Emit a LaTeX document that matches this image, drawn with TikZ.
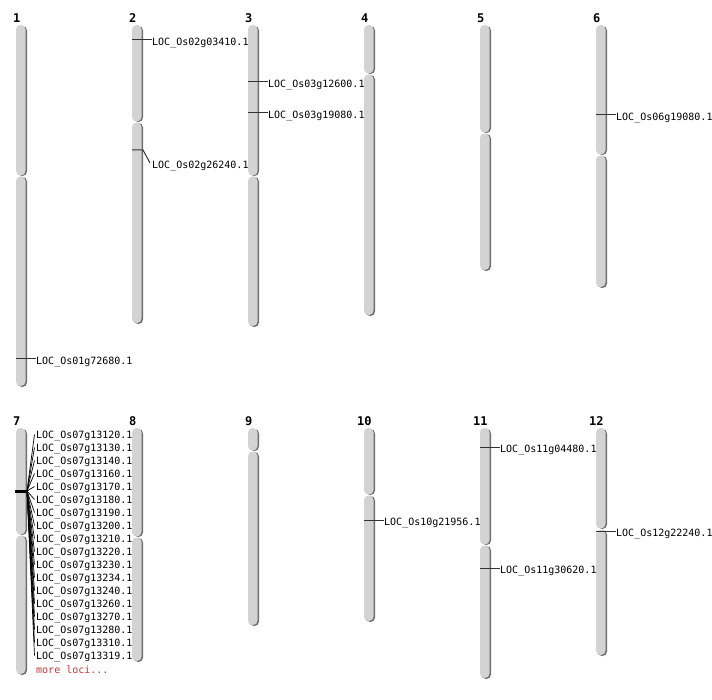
\documentclass[tikz,border=0pt]{standalone}
\usepackage{fontspec}
\newfontfamily\monof{DejaVu Sans Mono}
\definecolor{chrgray}{HTML}{D3D3D3}
\definecolor{shadowgray}{HTML}{6E6E6E}
\definecolor{markgray}{HTML}{333333}
\definecolor{lociRed}{HTML}{CC3333}
\tikzset{
  loc/.style={font=\monof\fontsize{10}{12}\selectfont, anchor=west, inner sep=0pt, text=black},
  num/.style={font=\monof\bfseries\fontsize{12}{14}\selectfont, anchor=base west, inner sep=0pt},
  mk/.style={draw=markgray, line width=1pt},
  fan/.style={draw=black, line width=0.7pt},
}
% \chrom{x}{top}{centromere}{bottom}
\newcommand\chrom[4]{%
  \fill[shadowgray, rounded corners=4.5pt] (#1+1.5,#2+1) rectangle (#1+11,#3);
  \fill[shadowgray, rounded corners=4.5pt] (#1+1.5,#3+1) rectangle (#1+11,#4+1);
  \fill[chrgray, rounded corners=4.5pt] (#1,#2) rectangle (#1+9.5,#3-0.5);
  \fill[chrgray, rounded corners=4.5pt] (#1,#3+0.5) rectangle (#1+9.5,#4);
}
\begin{document}
\begin{tikzpicture}[x=1pt,y=-1pt]
\useasboundingbox (0,0) rectangle (712,700);
\fill[white] (0,0) rectangle (712,700);
% chromosomes, top row
\chrom{16}{25}{176}{386}
\chrom{132}{25}{122}{323}
\chrom{248}{25}{176}{326}
\chrom{364}{25}{74}{315}
\chrom{480}{25}{133}{270}
\chrom{596}{25}{155}{287}
% bottom row
\chrom{16}{428}{535}{674}
\chrom{132}{428}{537}{661}
\chrom{248}{428}{451}{625}
\chrom{364}{428}{495}{621}
\chrom{480}{428}{545}{678}
\chrom{596}{428}{529}{655}
% chromosome numbers
\node[num] (n1) at (13,22.5) {1};
\node[num] (n2) at (129,22.5) {2};
\node[num] (n3) at (245,22.5) {3};
\node[num] (n4) at (361,22.5) {4};
\node[num] (n5) at (477,22.5) {5};
\node[num] (n6) at (593,22.5) {6};
\node[num] (n7) at (13,425.5) {7};
\node[num] (n8) at (129,425.5) {8};
\node[num] (n9) at (245,425.5) {9};
\node[num] (n10) at (357,425.5) {10};
\node[num] (n11) at (473,425.5) {11};
\node[num] (n12) at (589,425.5) {12};
% single loci
\coordinate (m1) at (16,359);
\node[loc] (l1) at (36,361.5) {LOC\_Os01g72680.1};
\draw[mk] (m1) -- (m1 -| l1.west);
\coordinate (m2a) at (132,40);
\node[loc] (l2a) at (152,42.5) {LOC\_Os02g03410.1};
\draw[mk] (m2a) -- (m2a -| l2a.west);
\coordinate (m2b) at (132,150);
\coordinate (m2bk) at (143,150);
\coordinate (m2be) at (150,163);
\node[loc] (l2b) at (152,165.5) {LOC\_Os02g26240.1};
\draw[mk] (m2b) -- (m2bk) -- (m2be);
\coordinate (m3a) at (248,82);
\node[loc] (l3a) at (268,84.5) {LOC\_Os03g12600.1};
\draw[mk] (m3a) -- (m3a -| l3a.west);
\coordinate (m3b) at (248,113);
\node[loc] (l3b) at (268,115.5) {LOC\_Os03g19080.1};
\draw[mk] (m3b) -- (m3b -| l3b.west);
\coordinate (m6) at (596,115);
\node[loc] (l6) at (616,117.5) {LOC\_Os06g19080.1};
\draw[mk] (m6) -- (m6 -| l6.west);
\coordinate (m10) at (364,520);
\node[loc] (l10) at (384,522.5) {LOC\_Os10g21956.1};
\draw[mk] (m10) -- (m10 -| l10.west);
\coordinate (m11a) at (480,447);
\node[loc] (l11a) at (500,449.5) {LOC\_Os11g04480.1};
\draw[mk] (m11a) -- (m11a -| l11a.west);
\coordinate (m11b) at (480,568);
\node[loc] (l11b) at (500,570.5) {LOC\_Os11g30620.1};
\draw[mk] (m11b) -- (m11b -| l11b.west);
\coordinate (m12) at (596,531);
\node[loc] (l12) at (616,533.5) {LOC\_Os12g22240.1};
\draw[mk] (m12) -- (m12 -| l12.west);
% chromosome 7 cluster
\coordinate (c7a) at (15,491);
\coordinate (c7) at (27,491);
\foreach \id [count=\i from 0] in {13120,13130,13140,13160,13170,13180,13190,13200,13210,13220,13230,13234,13240,13260,13270,13280,13310,13319}{
  \node[loc] (l7-\i) at (36,435.5+13*\i) {LOC\_Os07g\id.1};
  \draw[fan] (c7) -- ([xshift=-1.5pt,yshift=1pt]l7-\i.west);
}
\draw[black, line width=3pt] (c7a) -- (c7);
\node[loc, text=lociRed] (more) at (36,669.5) {more loci...};
\end{tikzpicture}
\end{document}
